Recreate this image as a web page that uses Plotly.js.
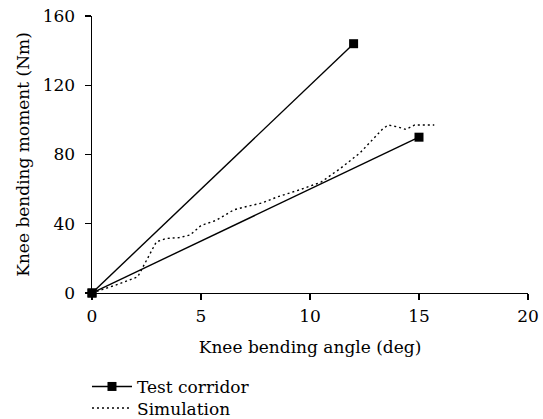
<!DOCTYPE html>
<html>
<head>
<meta charset="utf-8">
<script src="https://cdn.plot.ly/plotly-3.0.1.min.js"></script>
<style>
  html, body { margin: 0; padding: 0; background: #fff; }
  #chart { width: 543px; height: 419px; }
</style>
</head>
<body>
<div id="chart"></div>
<script>
// Test corridor: two bounding lines from the origin (null separates them)
const corridorAngle  = [0, 12, null, 0, 15];
const corridorMoment = [0, 144, null, 0, 90];

// Simulated knee bending response
const simAngle  = [0, 0.5, 1.3, 2.1, 2.5, 2.95, 3.4, 4.0, 4.5, 5.0, 5.7, 6.5, 7.1, 7.8, 8.5, 9.5, 10.5, 11.4, 12.3, 12.9, 13.35, 13.6, 14.0, 14.4, 14.8, 15.2, 15.7];
const simMoment = [0, 2, 5.5, 9.4, 19, 29.5, 31.5, 32, 33.5, 39, 42, 48, 50, 52, 55.5, 59.5, 64, 72, 81, 89, 95, 97, 96, 94.5, 97, 97, 97];

const xTicks = [0, 5, 10, 15, 20];
const yTicks = [0, 40, 80, 120, 160];

const font = { family: 'DejaVu Serif', size: 17, color: '#000' };

const traces = [
  {
    x: corridorAngle, y: corridorMoment,
    name: 'Test corridor',
    legend: 'legend',
    mode: 'lines+markers',
    connectgaps: false,
    line: { color: '#000', width: 1.4 },
    marker: { symbol: 'square', size: 9, color: '#000' },
    cliponaxis: false
  },
  {
    x: simAngle, y: simMoment,
    name: 'Simulation',
    legend: 'legend2',
    mode: 'lines',
    line: { color: '#000', width: 1.4, dash: '2px,3px' },
    cliponaxis: false
  }
];

// one legend per entry so the two rows sit close together
const legendBase = {
  x: -0.0115, xanchor: 'left', yanchor: 'middle',
  orientation: 'v', font: font, bgcolor: 'rgba(0,0,0,0)', itemwidth: 40
};

const layout = {
  width: 543, height: 419,
  margin: { l: 92, r: 15, t: 16, b: 126, autoexpand: false },
  paper_bgcolor: '#fff', plot_bgcolor: '#fff',
  font: font,
  showlegend: true,
  legend: Object.assign({}, legendBase, { y: -0.339 }),
  legend2: Object.assign({}, legendBase, { y: -0.417 }),
  xaxis: {
    range: [0, 20], tickvals: xTicks, ticktext: xTicks.map(String),
    showgrid: false, zeroline: false,
    showline: true, linecolor: '#000', linewidth: 1.4,
    ticks: 'outside', ticklen: 6, tickcolor: '#000', tickwidth: 1.4,
    ticklabelstandoff: 1,
    tickfont: font,
    title: { text: 'Knee bending angle (deg)', font: font, standoff: 16 }
  },
  yaxis: {
    range: [0, 160], tickvals: yTicks, ticktext: yTicks.map(String),
    showgrid: false, zeroline: false,
    showline: true, linecolor: '#000', linewidth: 1.4,
    ticks: 'outside', ticklen: 6, tickcolor: '#000', tickwidth: 1.4,
    ticklabelstandoff: 6,
    tickfont: font,
    title: { text: 'Knee bending moment (Nm)', font: font, standoff: 8 }
  }
};

Plotly.newPlot('chart', traces, layout, { displayModeBar: false, staticPlot: true });
</script>
</body>
</html>
